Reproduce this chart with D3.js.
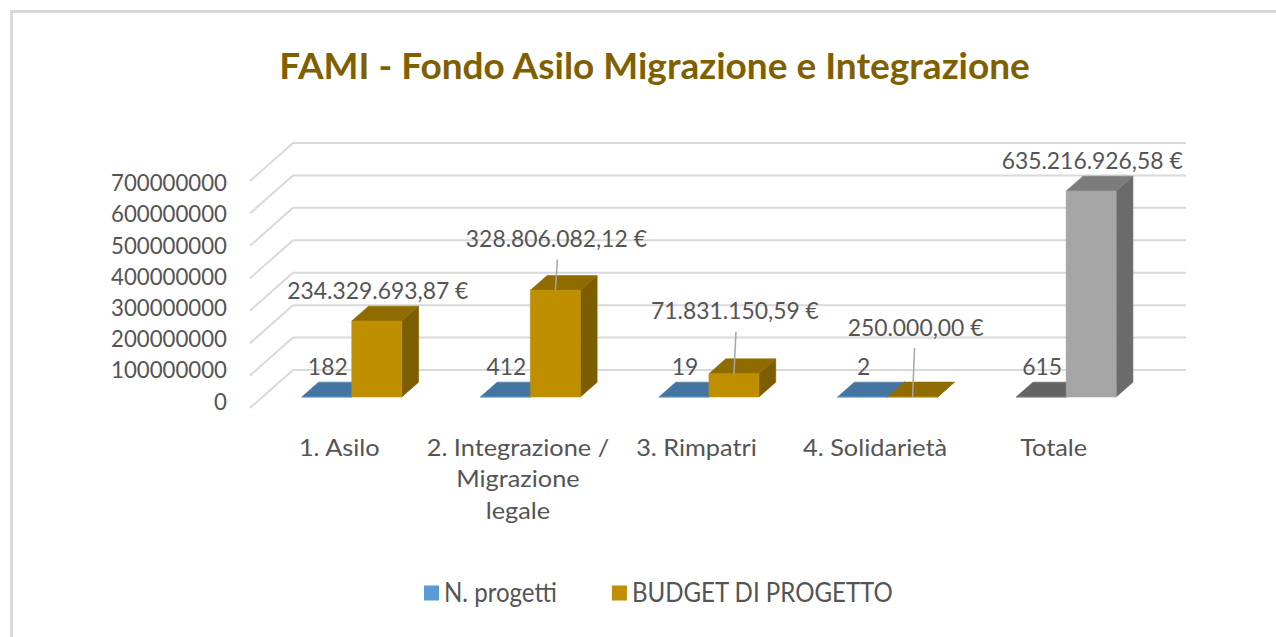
<!DOCTYPE html>
<html><head><meta charset="utf-8">
<script src="https://cdn.jsdelivr.net/npm/d3@7"></script>
<style>html,body{margin:0;padding:0;background:#fff;} svg{display:block;}</style>
</head><body><svg id="c" width="1276" height="637"></svg>
<script>
// ---------- data ----------
const title = "FAMI - Fondo Asilo Migrazione e Integrazione";
const categories = ["1. Asilo", "2. Integrazione / Migrazione legale", "3. Rimpatri", "4. Solidarietà", "Totale"];
const categoryLines = [["1. Asilo"], ["2. Integrazione /", "Migrazione", "legale"], ["3. Rimpatri"], ["4. Solidarietà"], ["Totale"]];
const seriesNames = ["N. progetti", "BUDGET DI PROGETTO"];
const nProgetti = [182, 412, 19, 2, 615];
const budget = [234329693.87, 328806082.12, 71831150.59, 250000.00, 635216926.58];
const yTicks = [0, 100000000, 200000000, 300000000, 400000000, 500000000, 600000000, 700000000];
const seriesColors = ["#5B9BD5", "#BF8F00"];
const totalColors = ["#848484", "#A5A5A5"];

// ---------- layout ----------
const DX = 43, DY = 38, D0 = 0.29, D1 = 0.68;
const budgetLabelShift = [[0, 0], [0, -21], [0, -32], [2, -39], [0, 0]];
const svg = d3.select("#c");
const TXT = "#545454";
const FONT = "Lato, 'Open Sans', sans-serif";

const x = d3.scaleBand().domain(categories).range([250, 1143]);
const xs = d3.scaleBand().domain(seriesNames).range([-50, 50]);
const y = d3.scaleLinear().domain([0, 700000000]).range([408, 181]);
const yLab = d3.scaleLinear().domain([0, 700000000]).range([401, 182.5]);
const P = (xf, yf, d) => [xf + d * DX, yf - d * DY];

const it = d3.formatLocale({decimal: ",", thousands: ".", grouping: [3], currency: ["", " €"]});
const fmtEur = it.format("$,.2f");
const fmtAxis = d3.format("d");

// outer frame
svg.append("rect").attr("x", 11.5).attr("y", 11.5).attr("width", 1400).attr("height", 800)
  .attr("fill", "#fff").attr("stroke", "#D9D9D9").attr("stroke-width", 3);

// measure helper for horizontal condensing
function measure(s, size, weight) {
  const t = svg.append("text").attr("font-family", FONT).attr("font-size", size).attr("font-weight", weight).text(s);
  const w = t.node().getComputedTextLength(); t.remove(); return w;
}
const LS = 24;
const SX = 116 / measure("700000000", LS, 400);
const SXD = SX * 1.03;
const SXC = SX * 1.14;
const LG = 26;
const SXL = 261 / measure("BUDGET DI PROGETTO", LG, 400);
const TS = 36;
const SXT = 751 / measure(title, TS, 700);

function T(parent, s, xx, yc, o = {}) {
  const size = o.size || LS, sx = o.sx || SX;
  return parent.append("text")
    .attr("transform", `translate(${xx},${yc + size * 0.7165 / 2}) scale(${sx},1)`)
    .attr("text-anchor", o.anchor || "middle")
    .attr("font-family", FONT).attr("font-size", size).attr("font-weight", o.weight || 400)
    .attr("fill", o.fill || TXT).text(s);
}

// title
T(svg, title, 654.5, 66, {size: TS, weight: 700, sx: SXT, fill: "#7F6000"});

// gridlines (back wall + left wall)
const grid = svg.append("g").attr("stroke", "#D9D9D9").attr("stroke-width", 2).attr("fill", "none");
const [xL, xR] = x.range();
yTicks.forEach(t => {
  const a = P(xL, y(t), 1), b = P(xR, y(t), 1);
  grid.append("line").attr("x1", a[0]).attr("y1", a[1]).attr("x2", b[0]).attr("y2", b[1]);
  grid.append("line").attr("x1", xL).attr("y1", y(t)).attr("x2", a[0]).attr("y2", a[1]);
});

// axis labels
const axisG = svg.append("g");
yTicks.forEach(t => T(axisG, fmtAxis(t), 227, yLab(t), {anchor: "end"}));

// bars
const shade = (c, k) => { const r = d3.rgb(c); return d3.rgb(r.r * k, r.g * k, r.b * k).formatHex(); };
function box(g, xa, xb, v, color) {
  const y0 = y(0), y1 = y(v);
  const fBL = P(xa, y0, D0), fBR = P(xb, y0, D0), fTL = P(xa, y1, D0), fTR = P(xb, y1, D0);
  const bTL = P(xa, y1, D1), bTR = P(xb, y1, D1), bBR = P(xb, y0, D1);
  const poly = (pts, fill) => g.append("path").attr("d", "M" + pts.map(p => p.join(",")).join("L") + "Z")
    .attr("fill", fill).attr("stroke", fill).attr("stroke-width", 0.6).attr("stroke-linejoin", "round");
  poly([fBR, fTR, bTR, bBR], shade(color, 0.65));
  poly([fTL, fTR, bTR, bTL], shade(color, 0.75));
  poly([fBL, fBR, fTR, fTL], color);
}
const barsG = svg.append("g");
const seriesVals = [nProgetti, budget];
categories.forEach((c, i) => {
  const cx = x(c) + x.bandwidth() / 2;
  seriesNames.forEach((s, si) => {
    const col = c === "Totale" ? totalColors[si] : seriesColors[si];
    box(barsG, cx + xs(s), cx + xs(s) + xs.bandwidth(), seriesVals[si][i], col);
  });
});

// data labels
const labG = svg.append("g");
const leadG = svg.append("g").attr("stroke", "#A6A6A6").attr("stroke-width", 1.5);
categories.forEach((c, i) => {
  const cx = x(c) + x.bandwidth() / 2;
  seriesNames.forEach((s, si) => {
    const v = seriesVals[si][i];
    const fc = cx + xs(s) + xs.bandwidth() / 2 + D0 * DX;
    const defY = y(v) - D1 * DY - 16;
    const shift = si === 1 ? budgetLabelShift[i] : [0, 0];
    const lx = fc + 1 + shift[0], ly = defY + shift[1];
    T(labG, si === 1 ? fmtEur(v) : String(v), lx, ly, {sx: SXD});
    if (shift[1] !== 0) {
      leadG.append("line").attr("x1", fc + 2).attr("y1", ly + 21).attr("x2", fc).attr("y2", y(v) - D0 * DY);
    }
  });
});

// category labels
const catG = svg.append("g");
categories.forEach((c, i) => {
  const cx = x(c) + x.bandwidth() / 2;
  categoryLines[i].forEach((ln, k) => T(catG, ln, cx, 447 + k * 31.5, {sx: SXC}));
});

// legend
const legG = svg.append("g");
let lxp = 424;
seriesNames.forEach((s, si) => {
  legG.append("rect").attr("x", lxp).attr("y", 585.5).attr("width", 15).attr("height", 15).attr("fill", seriesColors[si]);
  const t = T(legG, s, lxp + 20, 593, {anchor: "start", size: LG, sx: SXL});
  lxp += 20 + t.node().getComputedTextLength() * SXL + 55;
});
</script></body></html>
